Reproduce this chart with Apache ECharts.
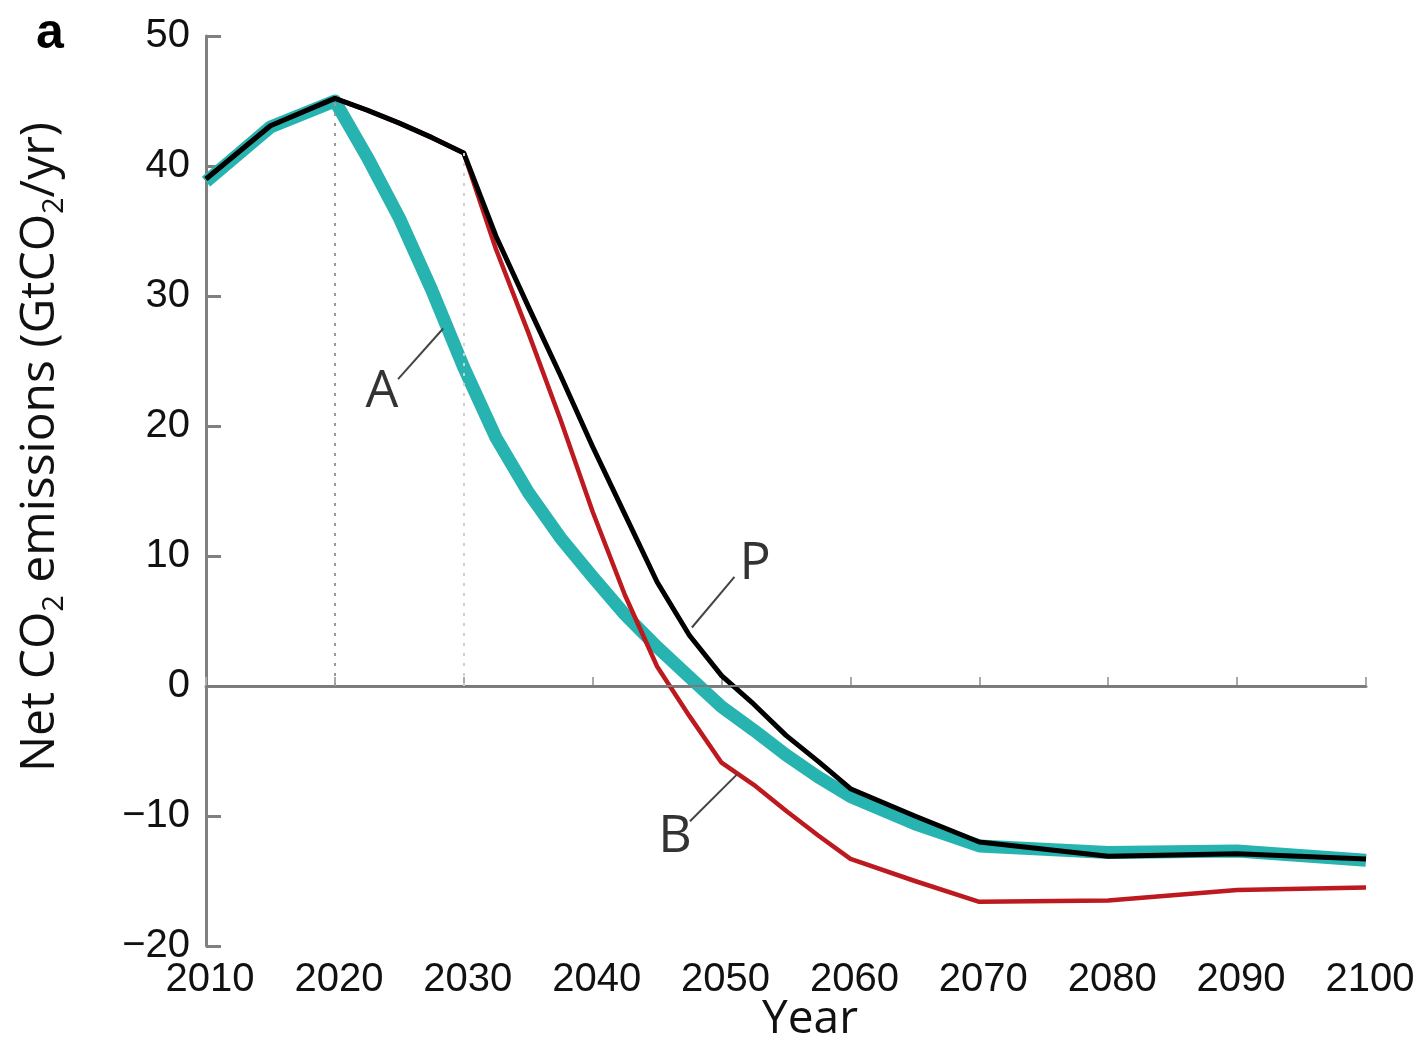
<!DOCTYPE html>
<html><head><meta charset="utf-8">
<script src="https://cdn.jsdelivr.net/npm/echarts@6/dist/echarts.min.js"></script>
<style>html,body{margin:0;padding:0;background:#fff}#c{width:1421px;height:1040px}</style>
</head><body><div id="c"></div>
<script>
const years = [2010, 2015, 2020, 2022.5, 2025, 2027.5, 2030, 2032.5, 2035, 2037.5, 2040, 2042.5, 2045, 2047.5, 2050, 2052.5, 2055, 2057.5, 2060, 2065, 2070, 2080, 2090, 2100];
// Net CO2 emissions (GtCO2/yr)
const pathwayP = [39.0, 43.1, 45.2, 44.3, 43.3, 42.2, 41.0, 34.6, 29.2, 23.9, 18.4, 13.2, 8.0, 3.9, 0.8, -1.4, -3.8, -5.8, -7.9, -10.0, -12.0, -13.1, -12.9, -13.3];
const pathwayA = [38.8, 43.0, 45.0, 40.7, 36.0, 30.5, 24.5, 19.1, 14.9, 11.4, 8.4, 5.5, 3.0, 0.7, -1.6, -3.4, -5.3, -7.0, -8.5, -10.6, -12.3, -12.8, -12.7, -13.4];
const pathwayB = [39.0, 43.1, 45.2, 44.3, 43.3, 42.2, 41.0, 33.6, 27.2, 20.5, 13.4, 7.0, 1.5, -2.3, -5.9, -7.6, -9.6, -11.5, -13.3, -15.0, -16.6, -16.5, -15.7, -15.5];
// Years marked with dotted verticals
const markYears = [2020, 2030];
// Curve labels: text, year, value
const curveLabels = [['A', 2023.65, 22.6], ['P', 2052.6, 9.4], ['B', 2046.4, -11.6]];
// Leader lines: [year1, value1, year2, value2]
const leaders = [[2024.9, 23.6, 2028.4, 27.5], [2051.0, 8.4, 2047.7, 4.5], [2047.55, -10.4, 2051.2, -6.8]];

const chart = echarts.init(document.getElementById('c'), null, {renderer: 'canvas'});
const pair = (a) => years.map((y, i) => [y, a[i]]);
const gray = '#808080';

const option = {
  animation: false,
  backgroundColor: '#fff',
  grid: {left: 206, right: 55, top: 36, bottom: 94},
  xAxis: {
    type: 'value', min: 2010, max: 2100, interval: 10,
    axisLine: {show: true, lineStyle: {color: gray, width: 3}},
    axisTick: {show: true, inside: true, length: 9, lineStyle: {color: '#aaa', width: 2}},
    axisLabel: {formatter: v => String(v), fontSize: 40, fontFamily: 'Liberation Sans, Arial', color: '#111', margin: 14, padding: [0, 0, 0, 8]},
    splitLine: {show: false}
  },
  yAxis: {
    type: 'value', min: -20, max: 50, interval: 10,
    axisLine: {show: true, lineStyle: {color: gray, width: 3}},
    axisTick: {show: true, inside: true, length: 15, lineStyle: {color: gray, width: 3}},
    axisLabel: {formatter: v => v < 0 ? '\u2212' + Math.abs(v) : String(v), fontSize: 40, fontFamily: 'Liberation Sans, Arial', color: '#111', margin: 16, padding: [0, 0, 16, 0]},
    splitLine: {show: false}
  },
  series: [
    {
      name: 'A', type: 'line', data: pair(pathwayA), symbol: 'none', z: 2,
      lineStyle: {color: '#27b3af', width: 13, join: 'round', cap: 'butt'},
      markLine: {
        silent: true, symbol: 'none', label: {show: false},
        data: [
          {yAxis: 0, lineStyle: {color: '#7a7a7a', width: 2, type: 'solid'}},
          ...markYears.map((yr, k) => [
            {coord: [yr, 0], lineStyle: {color: k === 0 ? '#999' : '#cfcfcf', width: 2, type: [3, 7]}},
            {coord: [yr, pathwayP[years.indexOf(yr)]]}
          ])
        ]
      }
    },
    {
      name: 'B', type: 'line', data: pair(pathwayB), symbol: 'none', z: 3,
      lineStyle: {color: '#bd1a1f', width: 4.5, join: 'round'}
    },
    {
      name: 'P', type: 'line', data: pair(pathwayP), symbol: 'none', z: 4,
      lineStyle: {color: '#000', width: 5, join: 'round'},
      markLine: {
        silent: true, symbol: 'none', label: {show: false},
        lineStyle: {color: '#444', width: 2, type: 'solid'},
        data: leaders.map(l => [{coord: [l[0], l[1]]}, {coord: [l[2], l[3]]}])
      }
    },
    {
      name: 'labels', type: 'scatter', symbolSize: 0, z: 5, silent: true,
      data: curveLabels.map(l => [l[1], l[2], l[0]]),
      label: {show: true, position: 'inside', formatter: p => p.value[2], fontSize: 52, fontFamily: 'Open Sans', color: '#000', textBorderWidth: 0}
    }
  ],
  graphic: [
    {type: 'text', x: 50, y: 34, style: {text: 'a', font: 'bold 50px Liberation Sans, Arial', fill: '#000', align: 'center', verticalAlign: 'middle'}},
    {type: 'text', x: 810, y: 1020, style: {text: 'Year', font: '46px Open Sans', fill: '#111', align: 'center', verticalAlign: 'middle'}},
    {type: 'text', x: 40, y: 447, rotation: Math.PI / 2,
      style: {
        text: '{m|Net CO}{s|2}{m| emissions (GtCO}{s|2}{m|/yr)}',
        align: 'center', verticalAlign: 'middle', fill: '#111',
        rich: {
          m: {fontSize: 48, fontFamily: 'Open Sans', lineHeight: 58, fill: '#111'},
          s: {fontSize: 29, fontFamily: 'Open Sans', lineHeight: 29, verticalAlign: 'bottom', padding: [10, 0, 0, 0], fill: '#111'}
        }
      }
    }
  ]
};
chart.setOption(option);
</script>
</body></html>
